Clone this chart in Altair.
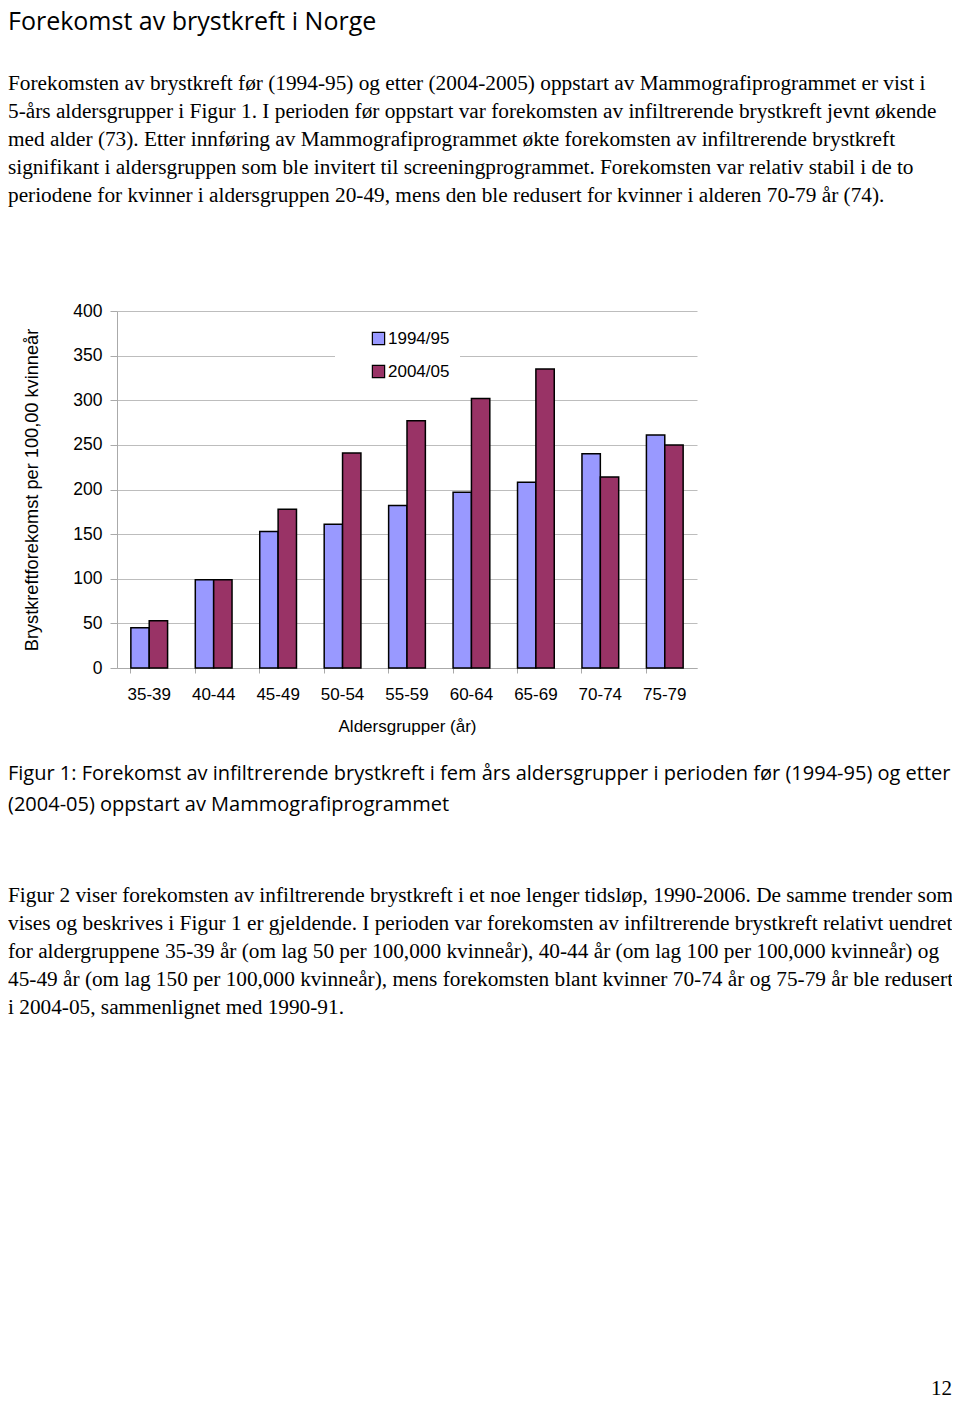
import altair as alt
import pandas as pd

ages = ["35-39", "40-44", "45-49", "50-54", "55-59", "60-64", "65-69", "70-74", "75-79"]
v1994 = [45, 99, 153, 161, 182, 197, 208, 240, 261]
v2004 = [53, 99, 178, 241, 277, 302, 335, 214, 250]
periods = ["1994/95", "2004/05"]
colors = ["#9999ff", "#993366"]

heading = "Forekomst av brystkreft i Norge"
para1 = [
    "Forekomsten av brystkreft før (1994-95) og etter (2004-2005) oppstart av Mammografiprogrammet er vist i",
    "5-års aldersgrupper i Figur 1. I perioden før oppstart var forekomsten av infiltrerende brystkreft jevnt økende",
    "med alder (73). Etter innføring av Mammografiprogrammet økte forekomsten av infiltrerende brystkreft",
    "signifikant i aldersgruppen som ble invitert til screeningprogrammet. Forekomsten var relativ stabil i de to",
    "periodene for kvinner i aldersgruppen 20-49, mens den ble redusert for kvinner i alderen 70-79 år (74).",
]
caption = [
    "Figur 1: Forekomst av infiltrerende brystkreft i fem års aldersgrupper i perioden før (1994-95) og etter",
    "(2004-05) oppstart av Mammografiprogrammet",
]
para2 = [
    "Figur 2 viser forekomsten av infiltrerende brystkreft i et noe lenger tidsløp, 1990-2006. De samme trender som",
    "vises og beskrives i Figur 1 er gjeldende. I perioden var forekomsten av infiltrerende brystkreft relativt uendret",
    "for aldergruppene 35-39 år (om lag 50 per 100,000 kvinneår), 40-44 år (om lag 100 per 100,000 kvinneår) og",
    "45-49 år (om lag 150 per 100,000 kvinneår), mens forekomsten blant kvinner 70-74 år og 75-79 år ble redusert",
    "i 2004-05, sammenlignet med 1990-91.",
]
page_no = "12"

rows = []
for a, v in zip(ages, v1994):
    rows.append({"age": a, "period": periods[0], "value": v})
for a, v in zip(ages, v2004):
    rows.append({"age": a, "period": periods[1], "value": v})
df = pd.DataFrame(rows)

bars = alt.Chart(df).mark_bar(stroke="black", strokeWidth=1.5).encode(
    x=alt.X(
        "age:N",
        sort=ages,
        scale=alt.Scale(paddingInner=0.43, paddingOuter=0.215),
        axis=alt.Axis(
            title="Aldersgrupper (år)",
            labelAngle=0,
            bandPosition=0,
            grid=False,
            tickSize=5,
            labelPadding=13,
            titlePadding=16,
            domainColor="#aaaaaa",
            tickColor="#aaaaaa",
        ),
    ),
    xOffset=alt.XOffset("period:N", sort=periods),
    y=alt.Y(
        "value:Q",
        scale=alt.Scale(domain=[0, 400], nice=False),
        axis=alt.Axis(
            title="Brystkreftforekomst per 100,00 kvinneår",
            values=[0, 50, 100, 150, 200, 250, 300, 350, 400],
            tickSize=7,
            labelPadding=8,
            labelFontSize=17.5,
            titlePadding=31,
            titleFontSize=18.2,
            domainColor="#aaaaaa",
            tickColor="#aaaaaa",
            gridColor="#bdbdbd",
        ),
    ),
    color=alt.Color(
        "period:N",
        scale=alt.Scale(domain=periods, range=colors),
        legend=alt.Legend(
            title=None,
            orient="none",
            legendX=218,
            legendY=9,
            fillColor="white",
            padding=10,
            symbolOffset=25,
            symbolType="square",
            symbolSize=150,
            symbolStrokeColor="black",
            symbolStrokeWidth=1.2,
            labelFontSize=17,
            labelFont="Liberation Sans",
            labelColor="black",
            labelOffset=1,
            rowPadding=14,
        ),
    ),
)

one = pd.DataFrame({"k": [0]})
serif = "Liberation Serif"
sans_head = "Open Sans"

t_head = alt.Chart(one).mark_text(
    align="left", baseline="middle", font=sans_head, fontSize=25, fontWeight=500, color="black"
).encode(x=alt.value(-109), y=alt.value(-289), text=alt.value(heading))

t_p1 = alt.Chart(one).mark_text(
    align="left", baseline="middle", font=serif, fontSize=21.3, lineHeight=28, color="black"
).encode(x=alt.value(-109), y=alt.value(-227), text=alt.value(para1))

t_cap = alt.Chart(one).mark_text(
    align="left", baseline="middle", font=sans_head, fontSize=20, fontWeight=500, lineHeight=31, color="black"
).encode(x=alt.value(-109), y=alt.value(463), text=alt.value(caption))

t_p2 = alt.Chart(one).mark_text(
    align="left", baseline="middle", font=serif, fontSize=21.3, lineHeight=28, color="black"
).encode(x=alt.value(-109), y=alt.value(585), text=alt.value(para2))

t_pg = alt.Chart(one).mark_text(
    align="right", baseline="middle", font=serif, fontSize=21, color="black"
).encode(x=alt.value(835), y=alt.value(1078), text=alt.value(page_no))

chart = alt.layer(bars, t_head, t_p1, t_cap, t_p2, t_pg).properties(
    width=580,
    height=357,
    autosize=alt.AutoSizeParams(type="none"),
    padding={"left": 109, "top": 303, "right": 255, "bottom": 731},
).configure_view(stroke=None).configure_axis(
    labelFont="Liberation Sans",
    titleFont="Liberation Sans",
    labelFontSize=17,
    titleFontSize=17,
    labelColor="black",
    titleColor="black",
    titleFontWeight="normal",
)

chart.save("out.html", embed_options={"renderer": "svg", "actions": False})
